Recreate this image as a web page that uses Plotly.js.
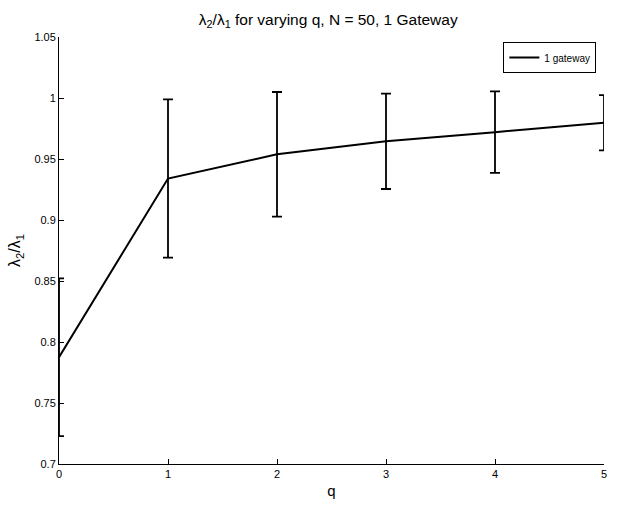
<!DOCTYPE html>
<html>
<head>
<meta charset="utf-8">
<script src="https://cdn.plot.ly/plotly-3.0.1.min.js"></script>
<style>html,body{margin:0;padding:0;background:#fff;}#chart{width:617px;height:508px;}</style>
</head>
<body>
<div id="chart"></div>
<script>
const qValues = [0, 1, 2, 3, 4, 5];
const ratioMean = [0.7875, 0.9340, 0.9538, 0.9645, 0.9720, 0.9797];
const ratioErr = [0.0646, 0.0648, 0.0511, 0.0391, 0.0334, 0.0226];
const seriesName = '1 gateway';
const xTickVals = [0, 1, 2, 3, 4, 5];
const yTickVals = [0.7, 0.75, 0.8, 0.85, 0.9, 0.95, 1, 1.05];
const yTickText = ['0.7', '0.75', '0.8', '0.85', '0.9', '0.95', '1', '1.05'];

const trace = {
  x: qValues,
  y: ratioMean,
  type: 'scatter',
  mode: 'lines',
  name: seriesName,
  line: {color: '#000', width: 2},
  error_y: {type: 'data', array: ratioErr, visible: true, color: '#000', thickness: 1.8, width: 5},
  cliponaxis: true,
  showlegend: true
};

const font = '"Liberation Sans", Arial, sans-serif';
const layout = {
  width: 617, height: 508,
  margin: {l: 59, r: 13, t: 37, b: 44, pad: 0},
  paper_bgcolor: '#fff', plot_bgcolor: '#fff',
  font: {family: font, color: '#000', size: 11},
  title: {text: 'λ<sub>2</sub>/λ<sub>1</sub> for varying q, N = 50, 1 Gateway', font: {family: font, size: 15.5, color: '#000'}, x: 0.532, xanchor: 'center', y: 0.962, yanchor: 'middle'},
  xaxis: {
    range: [0, 5], tickvals: xTickVals, ticktext: xTickVals.map(String),
    ticks: 'inside', ticklen: 5, tickcolor: '#000', tickwidth: 1,
    showline: true, linecolor: '#000', linewidth: 1, mirror: false,
    showgrid: false, zeroline: false,
    tickfont: {family: font, size: 11, color: '#000'},
    title: {text: 'q', font: {family: font, size: 15, color: '#000'}, standoff: 6}
  },
  yaxis: {
    range: [0.7, 1.05], tickvals: yTickVals, ticktext: yTickText,
    ticks: 'inside', ticklen: 5, tickcolor: '#000', tickwidth: 1,
    showline: true, linecolor: '#000', linewidth: 1, mirror: false,
    showgrid: false, zeroline: false,
    tickfont: {family: font, size: 11, color: '#000'},
    title: {text: 'λ<sub>2</sub>/λ<sub>1</sub>', font: {family: font, size: 16, color: '#000'}, standoff: 9}
  },
  showlegend: true,
  legend: {x: 0.986, y: 0.988, xanchor: 'right', yanchor: 'top', bgcolor: '#fff', bordercolor: '#000', borderwidth: 1, font: {family: font, size: 10, color: '#000'}, itemwidth: 30, tracegroupgap: 0}
};

Plotly.newPlot('chart', [trace], layout, {displayModeBar: false, staticPlot: true});
</script>
</body>
</html>
